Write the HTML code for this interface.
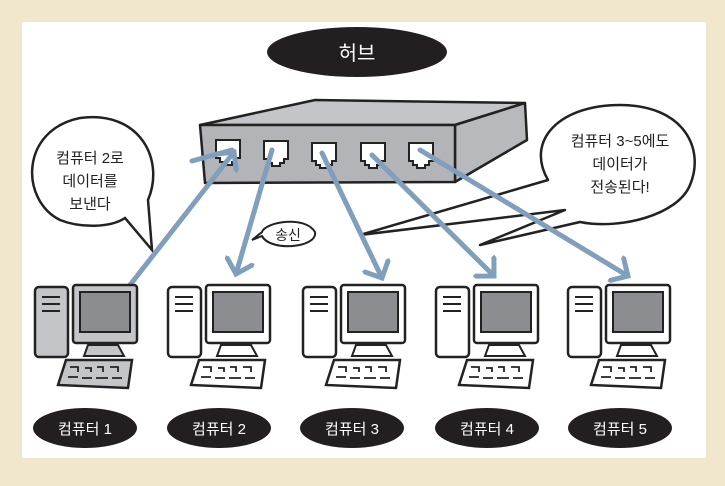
<!DOCTYPE html>
<html><head><meta charset="utf-8"><style>
body{margin:0;background:#f1e7cd;}
svg{display:block}
text{font-family:"Liberation Sans","Noto Sans CJK KR",sans-serif;}
</style></head><body>
<svg width="725" height="486" viewBox="0 0 725 486">
<rect x="0" y="0" width="725" height="486" fill="#f1e7cd"/>
<rect x="22" y="22" width="684" height="436" fill="#fff"/>
<defs>
<marker id="ah" markerWidth="6" markerHeight="6" refX="3" refY="3" orient="auto" markerUnits="strokeWidth">
<path d="M0,0 L3,3 L0,6" fill="none" stroke="#7f9fbd" stroke-width="1"/>
</marker>
<g id="pc">
<rect x="35" y="287" width="33" height="70" rx="4" fill="FILL" stroke="#222" stroke-width="2.5"/>
</g>
</defs>
<!-- hub label -->
<ellipse cx="357" cy="52" rx="90" ry="25" fill="#231f20"/>
<text x="357" y="60" font-size="20" fill="#fff" text-anchor="middle">허브</text>
<!-- hub -->
<polygon points="200,125 315,100 525,103 455,125" fill="#c4c5c8" stroke="#222" stroke-width="2.5" stroke-linejoin="round"/>
<polygon points="455,125 525,103 527,140 455,182" fill="#b8b9bc" stroke="#222" stroke-width="2.5" stroke-linejoin="round"/>
<polygon points="200,125 455,125 455,182 205,183" fill="#b3b4b7" stroke="#222" stroke-width="2.5" stroke-linejoin="round"/>
<g fill="#fff" stroke="#222" stroke-width="2">
<path d="M216,140h24v18h-4v4h-4v3h-8v-3h-4v-4h-4z"/>
<path d="M264,141h24v18h-4v4h-4v3h-8v-3h-4v-4h-4z"/>
<path d="M312,143h24v18h-4v4h-4v3h-8v-3h-4v-4h-4z"/>
<path d="M361,143h24v18h-4v4h-4v3h-8v-3h-4v-4h-4z"/>
<path d="M409,143h24v18h-4v4h-4v3h-8v-3h-4v-4h-4z"/>
</g>
<!-- bubbles -->
<path d="M60,220 C20,200 20,130 80,118 C140,110 165,160 148,200 L152,250 L125,218 C110,228 80,228 60,220Z" fill="#fff" stroke="#222" stroke-width="2.5"/>
<text font-size="15" text-anchor="middle" fill="#222"><tspan x="90" y="163">컴퓨터 2로</tspan><tspan x="90" y="186">데이터를</tspan><tspan x="90" y="209">보낸다</tspan></text>
<path d="M565,210 L360,235 L548,180 C525,140 560,105 620,105 C685,105 705,150 690,185 C678,215 620,230 580,222 L480,245 L565,210Z" fill="#fff" stroke="#222" stroke-width="2.5" stroke-linejoin="round"/>
<text font-size="15" text-anchor="middle" fill="#222"><tspan x="620" y="146">컴퓨터 3~5에도</tspan><tspan x="620" y="169">데이터가</tspan><tspan x="620" y="192">전송된다!</tspan></text>
<path d="M262,236 L252,240 L262,232 C265,222 305,215 315,232 C318,248 270,252 262,236Z" fill="#fff" stroke="#222" stroke-width="2"/>
<text x="288" y="240" font-size="14" text-anchor="middle" fill="#222">송신</text>
<!-- arrows -->
<g stroke="#7f9fbd" stroke-width="5" fill="none" stroke-linecap="round" marker-end="url(#ah)">
<line x1="130" y1="285" x2="234" y2="152"/>
<line x1="272" y1="150" x2="236" y2="274"/>
<line x1="322" y1="153" x2="382" y2="278"/>
<line x1="372" y1="155" x2="494" y2="276"/>
<line x1="420" y1="150" x2="628" y2="276"/>
</g>
<line x1="192" y1="161" x2="232" y2="150" stroke="#7f9fbd" stroke-width="5" stroke-linecap="round"/>
<!-- computers -->
<g id="c1">
<rect x="35" y="287" width="33" height="70" rx="4" fill="#c4c5c8" stroke="#222" stroke-width="2.5"/>
<line x1="42" y1="297" x2="60" y2="297" stroke="#222" stroke-width="2"/>
<line x1="42" y1="304" x2="60" y2="304" stroke="#222" stroke-width="2"/>
<line x1="42" y1="311" x2="60" y2="311" stroke="#222" stroke-width="2"/>
<polygon points="88,345 118,345 124,356 84,356" fill="#c4c5c8" stroke="#222" stroke-width="2"/>
<rect x="73" y="285" width="64" height="58" rx="3" fill="#c4c5c8" stroke="#222" stroke-width="2.5"/>
<rect x="80" y="292" width="50" height="40" fill="#8c8d90" stroke="#222" stroke-width="2"/>
<polygon points="66,360 132,360 128,388 58,385" fill="#c4c5c8" stroke="#222" stroke-width="2.5"/>
<g stroke="#222" stroke-width="1.8" fill="none"><path d="M70,367h8v5M68,377h10M85,368h6v4M82,378h10M97,367h6v5M96,378h12M110,367h8v5M112,378h10"/></g>
</g>
<g id="cw">
<rect x="168" y="287" width="33" height="70" rx="4" fill="#fff" stroke="#222" stroke-width="2.5"/>
<line x1="175" y1="297" x2="193" y2="297" stroke="#222" stroke-width="2"/>
<line x1="175" y1="304" x2="193" y2="304" stroke="#222" stroke-width="2"/>
<line x1="175" y1="311" x2="193" y2="311" stroke="#222" stroke-width="2"/>
<polygon points="221,345 251,345 257,356 217,356" fill="#fff" stroke="#222" stroke-width="2"/>
<rect x="206" y="285" width="64" height="58" rx="3" fill="#fff" stroke="#222" stroke-width="2.5"/>
<rect x="213" y="292" width="50" height="40" fill="#8c8d90" stroke="#222" stroke-width="2"/>
<polygon points="199,360 265,360 261,388 191,385" fill="#fff" stroke="#222" stroke-width="2.5"/>
<g stroke="#222" stroke-width="1.8" fill="none"><path d="M203,367h8v5M201,377h10M218,368h6v4M215,378h10M230,367h6v5M229,378h12M243,367h8v5M245,378h10"/></g>
</g>
<use href="#cw" x="135"/>
<use href="#cw" x="268"/>
<use href="#cw" x="400"/>
<!-- labels -->
<g fill="#231f20">
<ellipse cx="85" cy="428" rx="52" ry="20"/>
<ellipse cx="219" cy="428" rx="52" ry="20"/>
<ellipse cx="352" cy="428" rx="52" ry="20"/>
<ellipse cx="487" cy="428" rx="52" ry="20"/>
<ellipse cx="620" cy="428" rx="52" ry="20"/>
</g>
<g font-size="15" fill="#fff" text-anchor="middle">
<text x="85" y="434">컴퓨터 1</text>
<text x="219" y="434">컴퓨터 2</text>
<text x="352" y="434">컴퓨터 3</text>
<text x="487" y="434">컴퓨터 4</text>
<text x="620" y="434">컴퓨터 5</text>
</g>
</svg>
</body></html>
